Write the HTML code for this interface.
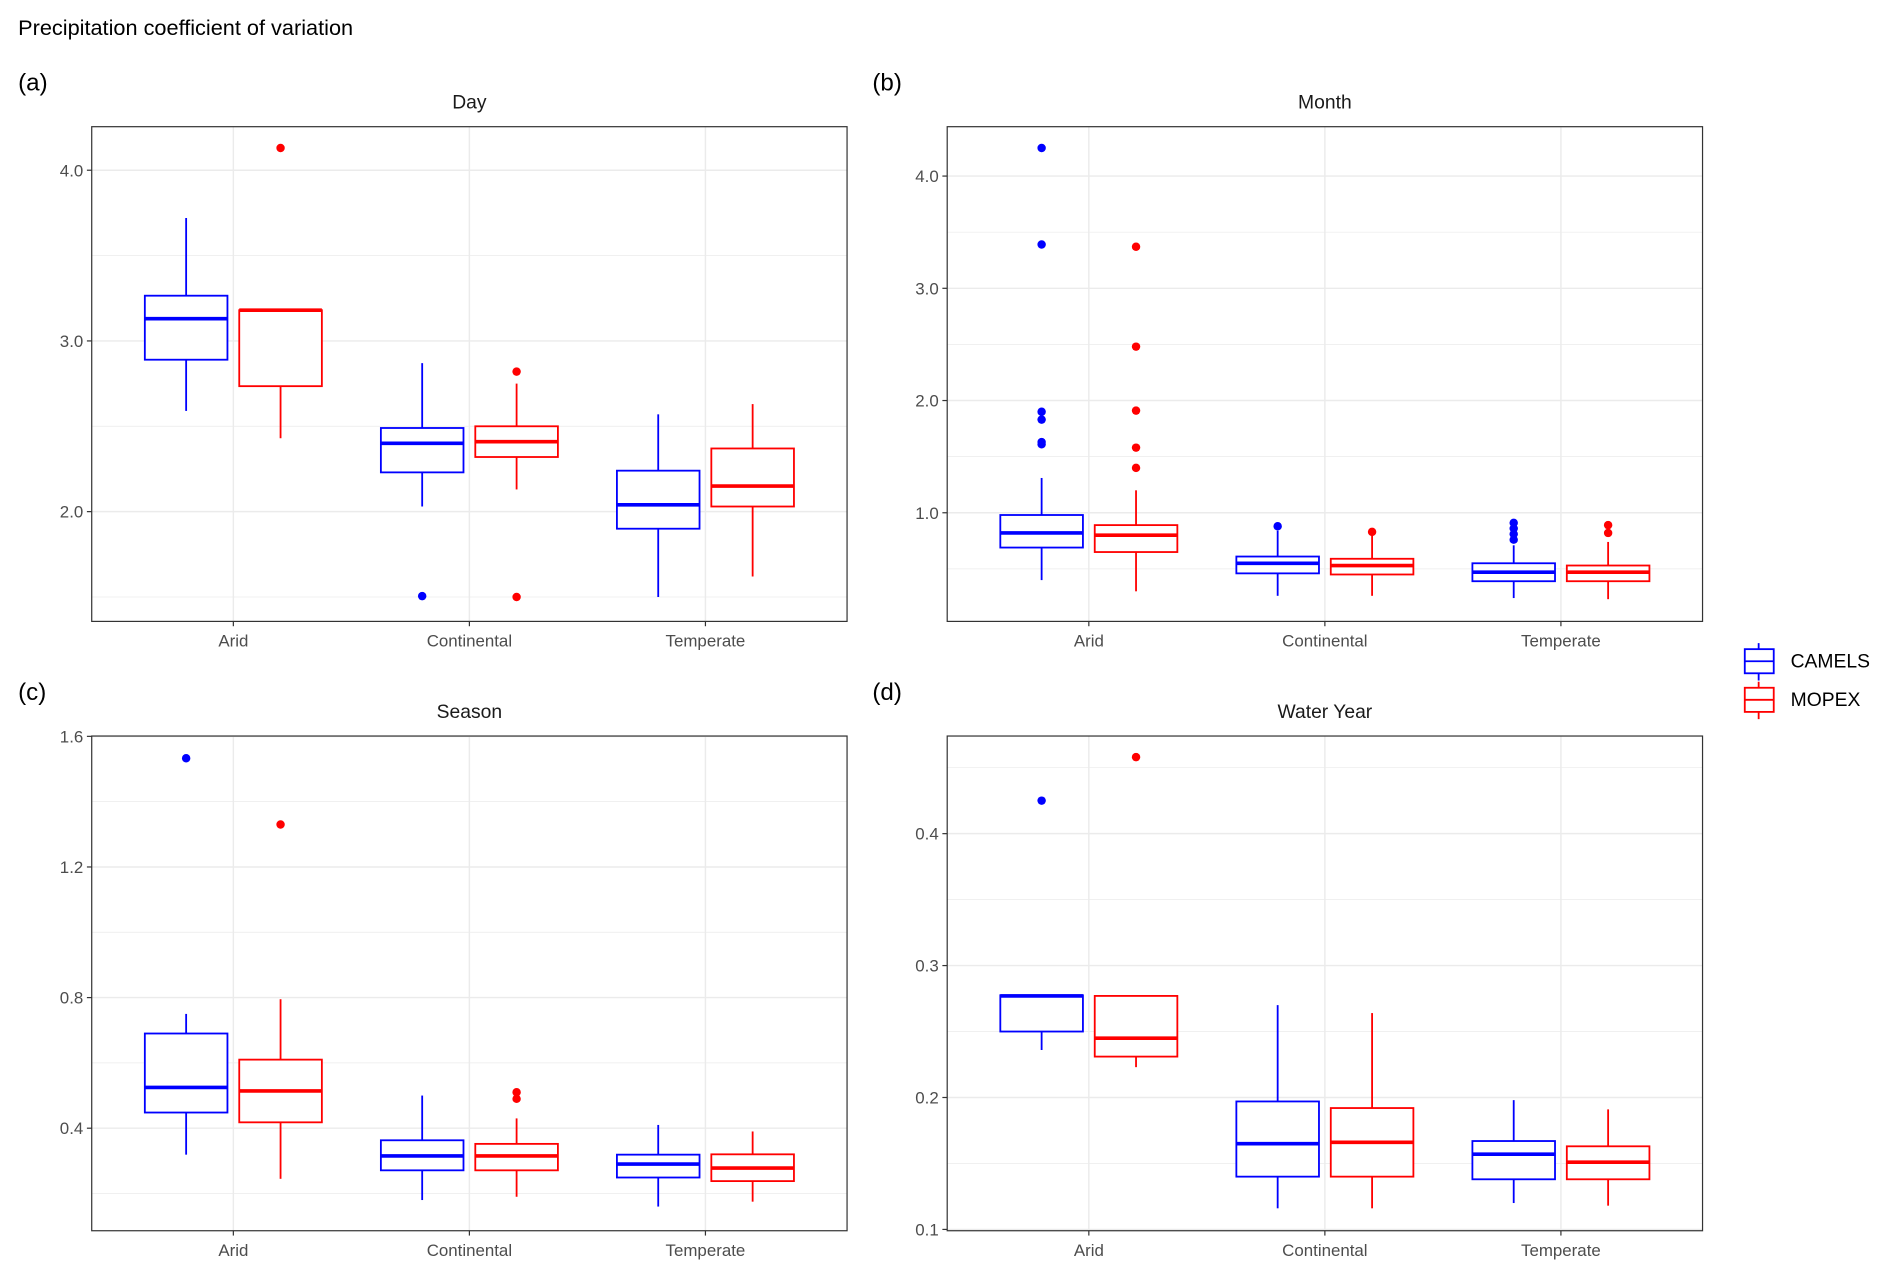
<!DOCTYPE html>
<html><head><meta charset="utf-8"><style>
html,body{margin:0;padding:0;background:#fff}
svg{display:block;font-family:"Liberation Sans",Arial,sans-serif}
</style></head><body>
<svg id="chart" width="1892" height="1279" viewBox="0 0 1568 1060" xmlns="http://www.w3.org/2000/svg">
<text x="15" y="29" font-size="18" fill="#000">Precipitation coefficient of variation</text>
<g>
  <g>
    <line x1="1457.5" y1="533" x2="1457.5" y2="564" stroke="#0000ff" stroke-width="1.5"/>
    <rect x="1446" y="538" width="24" height="20" fill="#fff" stroke="#0000ff" stroke-width="1.5"/>
    <line x1="1446" y1="548" x2="1470" y2="548" stroke="#0000ff" stroke-width="1.5"/>
    <text x="1484" y="553" font-size="16" fill="#000">CAMELS</text>
  </g>
  <g>
    <line x1="1457.5" y1="565" x2="1457.5" y2="596" stroke="#ff0000" stroke-width="1.5"/>
    <rect x="1446" y="570" width="24" height="20" fill="#fff" stroke="#ff0000" stroke-width="1.5"/>
    <line x1="1446" y1="580" x2="1470" y2="580" stroke="#ff0000" stroke-width="1.5"/>
    <text x="1484" y="585" font-size="16" fill="#000">MOPEX</text>
  </g>
</g>
</svg>
<script>
const categories = ["Arid","Continental","Temperate"];
const seriesNames = ["CAMELS","MOPEX"];
const seriesColors = ["#0000ff","#ff0000"];
const panelTitles = ["Day","Month","Season","Water Year"];
const panelTags = ["(a)","(b)","(c)","(d)"];
// [low, q1, median, q3, high] per category, per series
const dayCamels = [[2.59,2.89,3.13,3.265,3.72],[2.03,2.23,2.40,2.49,2.87],[1.50,1.90,2.04,2.24,2.57]];
const dayMopex  = [[2.43,2.735,3.18,3.18,3.18],[2.13,2.32,2.41,2.50,2.75],[1.62,2.03,2.15,2.37,2.63]];
const dayCamelsOut = [[],[1.505],[]];
const dayMopexOut  = [[4.13],[2.82,1.50],[]];
const monthCamels = [[0.40,0.69,0.82,0.98,1.31],[0.26,0.46,0.55,0.61,0.84],[0.24,0.39,0.47,0.55,0.71]];
const monthMopex  = [[0.30,0.65,0.80,0.89,1.20],[0.26,0.45,0.53,0.59,0.80],[0.23,0.39,0.47,0.53,0.74]];
const monthCamelsOut = [[4.25,3.39,1.90,1.83,1.63,1.61],[0.88],[0.91,0.86,0.81,0.76]];
const monthMopexOut  = [[3.37,2.48,1.91,1.58,1.40],[0.83],[0.89,0.82]];
const seasonCamels = [[0.319,0.448,0.525,0.69,0.75],[0.18,0.271,0.315,0.363,0.50],[0.16,0.249,0.29,0.319,0.41]];
const seasonMopex  = [[0.245,0.418,0.514,0.61,0.795],[0.19,0.271,0.315,0.352,0.43],[0.175,0.238,0.278,0.32,0.39]];
const seasonCamelsOut = [[1.533],[],[]];
const seasonMopexOut  = [[1.33],[0.51,0.49],[]];
const wyCamels = [[0.236,0.25,0.277,0.2775,0.2775],[0.116,0.14,0.165,0.197,0.27],[0.12,0.138,0.157,0.167,0.198]];
const wyMopex  = [[0.223,0.231,0.245,0.277,0.277],[0.116,0.14,0.166,0.192,0.264],[0.118,0.138,0.151,0.163,0.191]];
const wyCamelsOut = [[0.425],[],[]];
const wyMopexOut  = [[0.458],[],[]];
const dayTicks = [2.0,3.0,4.0], dayTickLabels = ["2.0","3.0","4.0"], dayMinor = [1.5,2.5,3.5];
const monthTicks = [1.0,2.0,3.0,4.0], monthTickLabels = ["1.0","2.0","3.0","4.0"], monthMinor = [0.5,1.5,2.5,3.5];
const seasonTicks = [0.4,0.8,1.2,1.6], seasonTickLabels = ["0.4","0.8","1.2","1.6"], seasonMinor = [0.2,0.6,1.0,1.4];
const wyTicks = [0.1,0.2,0.3,0.4], wyTickLabels = ["0.1","0.2","0.3","0.4"], wyMinor = [0.15,0.25,0.35,0.45];

const NS="http://www.w3.org/2000/svg";
const svg=document.getElementById('chart');
function mk(tag,attrs,parent){const e=document.createElementNS(NS,tag);for(const k in attrs)e.setAttribute(k,attrs[k]);parent.appendChild(e);return e;}

const panels=[
 {x0:76,x1:702,y0:105,y1:515,dom:[1.357,4.255],b:[dayCamels,dayMopex],o:[dayCamelsOut,dayMopexOut],t:dayTicks,tl:dayTickLabels,m:dayMinor,tagX:15,tagY:75,titleY:90},
 {x0:785,x1:1411,y0:105,y1:515,dom:[0.032,4.44],b:[monthCamels,monthMopex],o:[monthCamelsOut,monthMopexOut],t:monthTicks,tl:monthTickLabels,m:monthMinor,tagX:723,tagY:75,titleY:90},
 {x0:76,x1:702,y0:610,y1:1020,dom:[0.086,1.601],b:[seasonCamels,seasonMopex],o:[seasonCamelsOut,seasonMopexOut],t:seasonTicks,tl:seasonTickLabels,m:seasonMinor,tagX:15,tagY:580,titleY:595},
 {x0:785,x1:1411,y0:610,y1:1020,dom:[0.099,0.474],b:[wyCamels,wyMopex],o:[wyCamelsOut,wyMopexOut],t:wyTicks,tl:wyTickLabels,m:wyMinor,tagX:723,tagY:580,titleY:595}
];

panels.forEach((p,pi)=>{
  const g=mk('g',{},svg);
  
  
  const ys=v=>p.y1-(v-p.dom[0])/(p.dom[1]-p.dom[0])*(p.y1-p.y0);
  const xs=c=>p.x0+(c-0.4)/3.2*(p.x1-p.x0);
  const tag=mk('text',{x:p.tagX,y:p.tagY,'font-size':'20',fill:'#000'},g);tag.textContent=panelTags[pi];
  
  
  const tt=mk('text',{x:(p.x0+p.x1)/2,y:p.titleY,'font-size':'16','text-anchor':'middle',fill:'#1a1a1a'},g);tt.textContent=panelTitles[pi];
  
  
  p.m.forEach(v=>{const y=ys(v);if(y>p.y0&&y<p.y1){const l=mk('line',{x1:p.x0,x2:p.x1,y1:y,y2:y,stroke:'#ebebeb','stroke-width':'0.6'},g);
    
    }});
  p.t.forEach((v,i)=>{const y=ys(v);
    const l=mk('line',{x1:p.x0,x2:p.x1,y1:y,y2:y,stroke:'#ebebeb','stroke-width':'1.2'},g);
    
    
    mk('line',{x1:p.x0-4,x2:p.x0,y1:y,y2:y,stroke:'#333','stroke-width':'1'},g);
    const tx=mk('text',{x:p.x0-7,y:y+5,'font-size':'14','text-anchor':'end',fill:'#4d4d4d'},g);tx.textContent=p.tl[i];
    
    });
  categories.forEach((c,ci)=>{const x=xs(ci+1);
    const l=mk('line',{x1:x,x2:x,y1:p.y0,y2:p.y1,stroke:'#ebebeb','stroke-width':'1.2'},g);
    
    
    mk('line',{x1:x,x2:x,y1:p.y1,y2:p.y1+4,stroke:'#333','stroke-width':'1'},g);
    const tx=mk('text',{x:x,y:p.y1+21,'font-size':'14','text-anchor':'middle',fill:'#4d4d4d'},g);tx.textContent=c;
    
    });
  p.b.forEach((ser,si)=>{const col=seriesColors[si];
    ser.forEach((s,ci)=>{const cx=xs(ci+1+(si===0?-0.2:0.2));const hw=0.175*(p.x1-p.x0)/3.2;
      const bg=mk('g',{},g);
      
      
      mk('line',{x1:cx,x2:cx,y1:ys(s[4]),y2:ys(s[3]),stroke:col,'stroke-width':'1.5'},bg);
      mk('line',{x1:cx,x2:cx,y1:ys(s[1]),y2:ys(s[0]),stroke:col,'stroke-width':'1.5'},bg);
      mk('rect',{x:cx-hw,y:ys(s[3]),width:2*hw,height:Math.max(0.5,ys(s[1])-ys(s[3])),fill:'#fff',stroke:col,'stroke-width':'1.5'},bg);
      mk('line',{x1:cx-hw,x2:cx+hw,y1:ys(s[2]),y2:ys(s[2]),stroke:col,'stroke-width':'3'},bg);
      p.o[si][ci].forEach(v=>{const d=mk('circle',{cx:cx,cy:ys(v),r:3.5,fill:col},bg);
        
        });
    });});
  const br=mk('rect',{x:p.x0,y:p.y0,width:p.x1-p.x0,height:p.y1-p.y0,fill:'none',stroke:'#333','stroke-width':'1'},g);
  
  
});
</script>
</body></html>
